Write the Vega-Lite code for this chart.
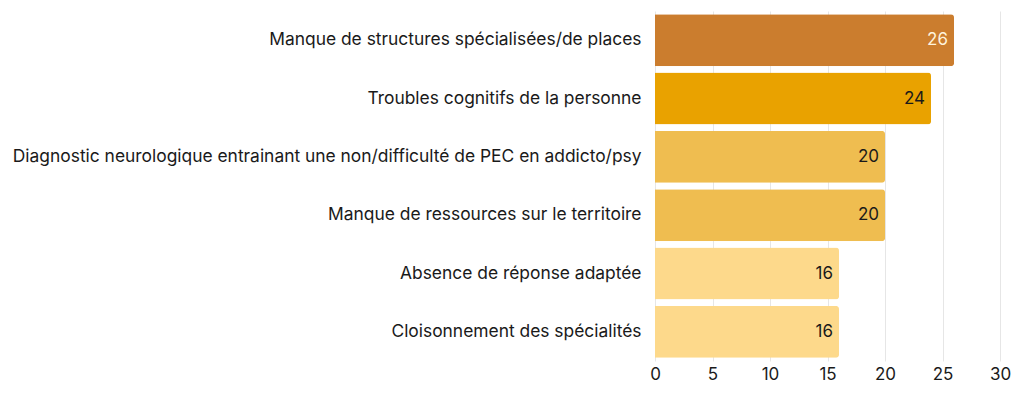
{
  "$schema": "https://vega.github.io/schema/vega-lite/v6.json",
  "autosize": {"type": "none"},
  "width": 345,
  "height": 350,
  "padding": {"left": 655, "top": 11, "right": 24, "bottom": 34},
  "background": "white",
  "config": {"view": {"stroke": null}, "font": "Inter"},
  "data": {"values": [
    {"cat": "Manque de structures spécialisées/de places", "v": 26, "c": "a"},
    {"cat": "Troubles cognitifs de la personne", "v": 24, "c": "b"},
    {"cat": "Diagnostic neurologique entrainant une non/difficulté de PEC en addicto/psy", "v": 20, "c": "c"},
    {"cat": "Manque de ressources sur le territoire", "v": 20, "c": "c"},
    {"cat": "Absence de réponse adaptée", "v": 16, "c": "d"},
    {"cat": "Cloisonnement des spécialités", "v": 16, "c": "d"}
  ]},
  "encoding": {
    "y": {"field": "cat", "type": "nominal", "sort": null, "title": null,
      "scale": {"paddingInner": 0.11, "paddingOuter": 0.055},
      "axis": {"domain": false, "ticks": false, "labelPadding": 14, "labelFontSize": 17.4, "labelColor": "#1a1a1a", "labelFont": "Inter", "labelLimit": 700}},
    "x": {"field": "v", "type": "quantitative", "title": null,
      "scale": {"domain": [0, 30], "nice": false},
      "axis": {"values": [0, 5, 10, 15, 20, 25, 30], "domain": false, "ticks": false, "grid": true, "gridColor": "#e6e6e6", "labelFlush": false, "labelFontSize": 17, "labelColor": "#1a1a1a", "labelPadding": 5, "labelFont": "Inter"}}
  },
  "layer": [
    {"mark": {"type": "bar", "cornerRadiusEnd": 3},
     "encoding": {"color": {"field": "c", "type": "nominal", "legend": null,
       "scale": {"domain": ["a", "b", "c", "d"], "range": ["#CB7D2E", "#E9A200", "#EFBD50", "#FDD98B"]}}}},
    {"mark": {"type": "text", "align": "right", "dx": -6, "fontSize": 17, "font": "Inter"},
     "encoding": {"text": {"field": "v", "type": "quantitative"},
       "color": {"condition": {"test": "datum.c === 'a'", "value": "#FFF3DD"}, "value": "#1a1a1a"}}}
  ]
}
